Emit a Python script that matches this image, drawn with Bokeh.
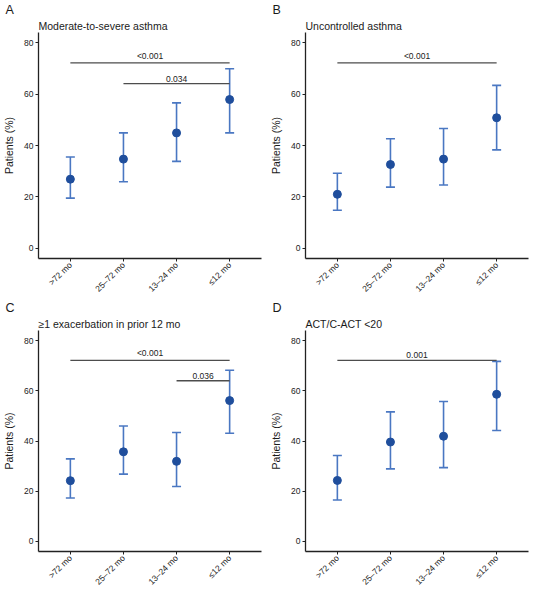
import math
from bokeh.plotting import figure
from bokeh.models import (ColumnDataSource, Range1d, FixedTicker, Title, Whisker, TeeHead)
from bokeh.layouts import column, row
from bokeh.embed import file_html
from bokeh.resources import INLINE
from bokeh.core.properties import value

categories = [">72 mo", "25\u201372 mo", "13\u201324 mo", "\u226412 mo"]
y_ticks = [0, 20, 40, 60, 80]

# Panel A: Moderate-to-severe asthma
a_mid = [26.9, 34.7, 44.9, 57.9]
a_lo = [19.5, 25.9, 33.8, 44.9]
a_hi = [35.5, 44.9, 56.6, 69.9]
a_br_start = [1, 2]
a_br_end = [4, 4]
a_br_y = [72.2, 64.1]
a_br_label = ["<0.001", "0.034"]

# Panel B: Uncontrolled asthma
b_mid = [21.0, 32.6, 34.7, 50.8]
b_lo = [14.8, 23.8, 24.6, 38.3]
b_hi = [29.2, 42.6, 46.6, 63.4]
b_br_start = [1]
b_br_end = [4]
b_br_y = [72.2]
b_br_label = ["<0.001"]

# Panel C: >=1 exacerbation in prior 12 mo
c_mid = [24.2, 35.7, 31.9, 56.1]
c_lo = [17.3, 26.8, 21.9, 43.1]
c_hi = [32.9, 46.0, 43.4, 68.2]
c_br_start = [1, 3]
c_br_end = [4, 4]
c_br_y = [72.1, 64.0]
c_br_label = ["<0.001", "0.036"]

# Panel D: ACT/C-ACT <20
d_mid = [24.3, 39.6, 41.9, 58.6]
d_lo = [16.5, 28.9, 29.4, 44.2]
d_hi = [34.2, 51.6, 55.7, 71.7]
d_br_start = [1]
d_br_end = [4]
d_br_y = [72.1]
d_br_label = ["0.001"]

FONT = "Liberation Sans"
POINT_COLOR = "#1f4e9c"
BAR_COLOR = "#4a77c2"
BR_COLOR = "#4d4d4d"


def panel(letter, subtitle, mid, lo, hi, br_s, br_e, br_y, br_lab, h, mb):
    p = figure(width=267, height=h, output_backend="svg", toolbar_location=None,
               x_range=Range1d(0.4, 4.6), y_range=Range1d(-4, 84),
               min_border_left=2, min_border_right=6, min_border_top=0,
               min_border_bottom=0, margin=(0, 0, mb, 0))
    p.outline_line_color = None
    p.xgrid.visible = False
    p.ygrid.visible = False
    p.background_fill_color = "white"
    p.border_fill_alpha = 0

    t1 = Title(text=subtitle, align="left", text_font=FONT, text_font_size="10.5px",
               text_font_style="normal", text_color="#1a1a1a", standoff=2, offset=0)
    p.add_layout(t1, "above")
    t2 = Title(text=letter, align="left", text_font=FONT, text_font_size="12.5px",
               text_font_style="normal", text_color="#1a1a1a", standoff=0, offset=-33)
    p.add_layout(t2, "above")

    x = [1, 2, 3, 4]
    src = ColumnDataSource(dict(x=x, mid=mid, lo=lo, hi=hi))
    w = Whisker(source=src, base="x", lower="lo", upper="hi", dimension="height",
                line_color=BAR_COLOR, line_width=1.6,
                upper_head=TeeHead(size=9, line_color=BAR_COLOR, line_width=1.6),
                lower_head=TeeHead(size=9, line_color=BAR_COLOR, line_width=1.6))
    p.add_layout(w)
    p.scatter("x", "mid", source=src, size=8, color=POINT_COLOR, line_color=POINT_COLOR)

    bsrc = ColumnDataSource(dict(x0=br_s, x1=br_e, y=br_y,
                                 xm=[(s + e) / 2 for s, e in zip(br_s, br_e)],
                                 lab=br_lab))
    p.segment(x0="x0", x1="x1", y0="y", y1="y", source=bsrc, line_color=BR_COLOR,
              line_width=1.3)
    p.text(x="xm", y="y", text="lab", source=bsrc, text_align="center",
           text_baseline="bottom", y_offset=-2, text_font=value(FONT),
           text_font_size="8.5px", text_color="#222222")

    xa = p.xaxis[0]
    xa.ticker = FixedTicker(ticks=x)
    xa.axis_label = None
    xa.major_label_overrides = {i + 1: c for i, c in enumerate(categories)}
    xa.major_label_orientation = math.pi / 4
    xa.major_label_text_font = FONT
    xa.major_label_text_font_size = "8.5px"
    xa.major_label_text_color = "#222222"
    xa.major_label_standoff = 2
    xa.axis_line_color = "#222222"
    xa.axis_line_width = 1.3
    xa.major_tick_line_color = "#222222"
    xa.major_tick_out = 3
    xa.major_tick_in = 0
    xa.minor_tick_line_color = None

    ya = p.yaxis[0]
    ya.ticker = FixedTicker(ticks=y_ticks)
    ya.axis_label = "Patients (%)"
    ya.axis_label_text_font = FONT
    ya.axis_label_text_font_size = "10.5px"
    ya.axis_label_text_font_style = "normal"
    ya.axis_label_text_color = "#1a1a1a"
    ya.axis_label_standoff = 6
    ya.major_label_text_font = FONT
    ya.major_label_text_font_size = "8.5px"
    ya.major_label_text_color = "#222222"
    ya.major_label_standoff = 2
    ya.axis_line_color = "#222222"
    ya.axis_line_width = 1.3
    ya.major_tick_line_color = "#222222"
    ya.major_tick_out = 3
    ya.major_tick_in = 0
    ya.minor_tick_line_color = None
    return p


pa = panel("A", "Moderate-to-severe asthma", a_mid, a_lo, a_hi, a_br_start, a_br_end, a_br_y, a_br_label, 300, -2)
pb = panel("B", "Uncontrolled asthma", b_mid, b_lo, b_hi, b_br_start, b_br_end, b_br_y, b_br_label, 300, -2)
pc = panel("C", "\u22651 exacerbation in prior 12 mo", c_mid, c_lo, c_hi, c_br_start, c_br_end, c_br_y, c_br_label, 295, -8)
pd_ = panel("D", "ACT/C-ACT <20", d_mid, d_lo, d_hi, d_br_start, d_br_end, d_br_y, d_br_label, 295, -8)

layout = column(row(pa, pb), row(pc, pd_))
open("out.html", "w").write(file_html(layout, INLINE))
